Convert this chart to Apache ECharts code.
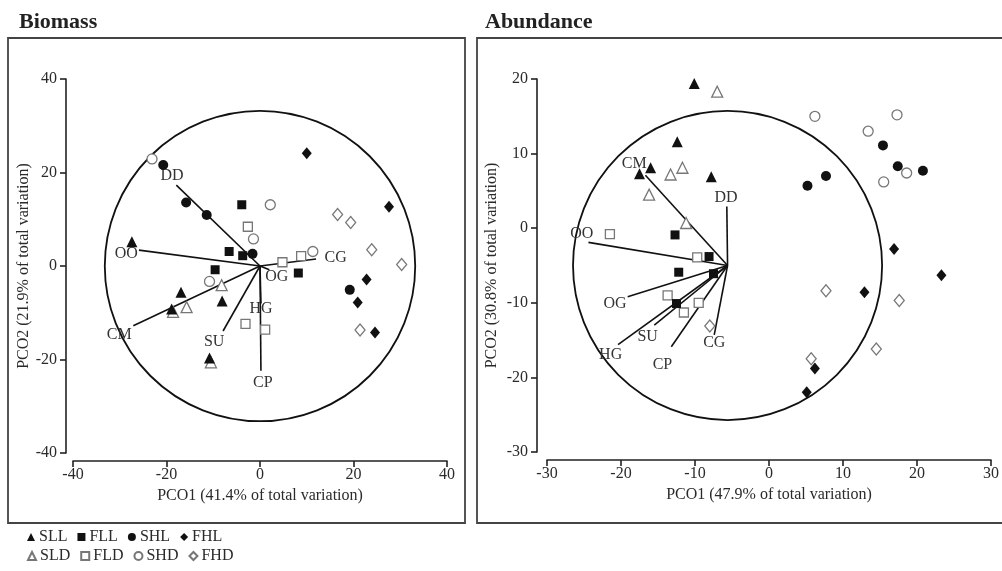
<!DOCTYPE html>
<html>
<head>
<meta charset="utf-8">
<title>PCO ordination – Biomass and Abundance</title>
<script src="https://cdn.jsdelivr.net/npm/echarts/dist/echarts.min.js"></script>
<style>
  html, body { margin: 0; padding: 0; background: #fff; }
  #chart { width: 1002px; height: 571px; }
</style>
</head>
<body>
<div id="chart"></div>
<script>
// ---------- Biomass panel: sample scores (PCO1, PCO2) ----------
const bioSLL = [[-27.4, 5.2], [-16.9, -5.6], [-18.9, -9.2], [-8.1, -7.5], [-10.8, -19.7]];
const bioSLD = [[-8.2, -4.1], [-15.7, -8.8], [-18.6, -9.8], [-10.5, -20.6]];
const bioFLL = [[-3.9, 13.1], [-6.6, 3.1], [-3.7, 2.2], [-9.6, -0.8], [8.2, -1.5]];
const bioFLD = [[-2.6, 8.4], [8.8, 2.1], [4.8, 0.8], [-3.1, -12.4], [1.1, -13.6]];
const bioSHL = [[-20.7, 21.6], [-15.8, 13.6], [-11.4, 10.9], [19.2, -5.1], [-1.6, 2.6]];
const bioSHD = [[-23.1, 22.9], [2.2, 13.1], [11.3, 3.1], [-10.8, -3.3], [-1.4, 5.8]];
const bioFHL = [[10.0, 24.1], [27.6, 12.7], [22.8, -2.9], [20.9, -7.8], [24.6, -14.2]];
const bioFHD = [[16.6, 11.0], [19.4, 9.3], [23.9, 3.5], [30.3, 0.3], [21.4, -13.7]];

// Biomass vector overlay: origin, variable names, vector tips and label anchors
const bioOrigin = [0, 0];
const bioCircleRadius = 33.2;
const bioVarNames = ['DD', 'OO', 'CM', 'SU', 'HG', 'CP', 'OG', 'CG'];
const bioVarTips = [[-17.9, 17.3], [-25.9, 3.4], [-27.1, -12.8], [-7.9, -13.9], [0.2, -8.0], [0.2, -22.4], [2.0, -0.8], [12.0, 1.5]];
const bioVarLabels = [[-18.8, 19.2], [-28.6, 2.6], [-30.1, -14.7], [-9.8, -16.2], [0.2, -9.2], [0.6, -25.0], [3.6, -2.4], [16.2, 1.7]];

// ---------- Abundance panel: sample scores (PCO1, PCO2) ----------
const abuSLL = [[-10.1, 19.4], [-12.4, 11.6], [-16.0, 8.1], [-17.5, 7.3], [-7.8, 6.9]];
const abuSLD = [[-7.0, 18.3], [-13.3, 7.2], [-11.7, 8.1], [-16.2, 4.5], [-11.2, 0.7]];
const abuFLL = [[-12.7, -0.9], [-8.1, -3.8], [-12.2, -5.9], [-7.5, -6.1], [-12.5, -10.1]];
const abuFLD = [[-21.5, -0.8], [-9.7, -3.9], [-13.7, -9.0], [-11.5, -11.3], [-9.5, -10.0]];
const abuSHL = [[15.4, 11.1], [17.4, 8.3], [20.8, 7.7], [7.7, 7.0], [5.2, 5.7]];
const abuSHD = [[6.2, 15.0], [17.3, 15.2], [13.4, 13.0], [18.6, 7.4], [15.5, 6.2]];
const abuFHL = [[16.9, -2.8], [23.3, -6.3], [12.9, -8.6], [6.2, -18.8], [5.1, -22.0]];
const abuFHD = [[7.7, -8.4], [17.6, -9.7], [14.5, -16.2], [5.7, -17.5], [-8.0, -13.1]];

// Abundance vector overlay
const abuOrigin = [-5.6, -5.0];
const abuCircleRadius = 20.8;
const abuVarNames = ['CM', 'DD', 'OO', 'OG', 'SU', 'HG', 'CP', 'CG'];
const abuVarTips = [[-16.7, 7.1], [-5.7, 2.9], [-24.4, -1.9], [-19.1, -9.2], [-15.5, -13.0], [-20.4, -15.6], [-13.2, -15.9], [-7.4, -14.3]];
const abuVarLabels = [[-18.2, 8.6], [-5.8, 4.1], [-25.3, -0.8], [-20.8, -10.1], [-16.4, -14.6], [-21.4, -17.0], [-14.4, -18.3], [-7.4, -15.3]];

// Axis ranges and titles
const bioXTicks = { min: -40, max: 40, interval: 20 };
const bioYTicks = { min: -40, max: 40, interval: 20 };
const abuXTicks = { min: -30, max: 30, interval: 10 };
const abuYTicks = { min: -30, max: 20, interval: 10 };
const bioXName = 'PCO1 (41.4% of total variation)';
const bioYName = 'PCO2 (21.9% of total variation)';
const abuXName = 'PCO1 (47.9% of total variation)';
const abuYName = 'PCO2 (30.8% of total variation)';

// Group names, in legend order
const filledGroups = ['SLL', 'FLL', 'SHL', 'FHL'];
const hollowGroups = ['SLD', 'FLD', 'SHD', 'FHD'];

// ---------- styling ----------
const SERIF = '"Liberation Serif", "Times New Roman", serif';
const INK = '#111';
const TEXT = '#2a2a2a';
const HOLLOW = '#777';

const symbolOf = { S_L: 'triangle', F_L: 'rect', S_H: 'circle', F_H: 'diamond' };
function groupSymbol(g) { return symbolOf[g[0] + '_' + g[1]]; }
function groupSize(g) {
  const s = groupSymbol(g);
  if (s === 'triangle') return 11;
  if (s === 'rect') return 9;
  if (s === 'circle') return 10;
  return [10, 12];
}

function axis(kind, grid, ticks, name, offset, nameGap) {
  return {
    type: 'value', gridIndex: grid,
    min: ticks.min, max: ticks.max, interval: ticks.interval,
    offset: offset,
    name: name, nameLocation: 'middle', nameGap: nameGap,
    nameTextStyle: { fontFamily: SERIF, fontSize: 16, color: TEXT },
    axisLine: { show: true, onZero: false, lineStyle: { color: '#222', width: 1.6 } },
    axisTick: { show: true, inside: false, length: 6, lineStyle: { color: '#222', width: 1.6 } },
    axisLabel: { fontFamily: SERIF, fontSize: 16, color: TEXT, margin: kind === 'x' ? 6 : 9 },
    splitLine: { show: false }
  };
}

function scatter(name, data, grid, filled) {
  return {
    type: 'scatter', name: name, data: data,
    xAxisIndex: grid, yAxisIndex: grid,
    symbol: groupSymbol(name), symbolSize: groupSize(name),
    itemStyle: filled
      ? { color: INK, opacity: 1 }
      : { color: '#fff', borderColor: HOLLOW, borderWidth: 1.3, opacity: 1 },
    emphasis: { disabled: true },
    z: filled ? 5 : 4,
    animation: false
  };
}

function circleSeries(grid, center, radius) {
  return {
    type: 'custom', xAxisIndex: grid, yAxisIndex: grid,
    data: [[center[0], center[1], radius]],
    clip: false, silent: true, z: 2, animation: false,
    renderItem: function (params, api) {
      const c = api.coord([api.value(0), api.value(1)]);
      const s = api.size([api.value(2), api.value(2)]);
      return {
        type: 'circle',
        shape: { cx: c[0], cy: c[1], r: (s[0] + s[1]) / 2 },
        style: { fill: 'none', stroke: INK, lineWidth: 1.8 }
      };
    }
  };
}

function vectorSeries(grid, origin, names, tips, labels) {
  return {
    type: 'custom', xAxisIndex: grid, yAxisIndex: grid,
    data: tips.map(function (t, i) { return [t[0], t[1], labels[i][0], labels[i][1]]; }),
    clip: false, silent: true, z: 3, animation: false,
    renderItem: function (params, api) {
      const o = api.coord(origin);
      const e = api.coord([api.value(0), api.value(1)]);
      const l = api.coord([api.value(2), api.value(3)]);
      return {
        type: 'group',
        children: [
          { type: 'line', shape: { x1: o[0], y1: o[1], x2: e[0], y2: e[1] },
            style: { stroke: INK, lineWidth: 1.6 } },
          { type: 'text', x: l[0], y: l[1],
            style: { text: names[params.dataIndex], font: '16px ' + SERIF, fill: '#333',
                     align: 'center', verticalAlign: 'middle' } }
        ]
      };
    }
  };
}

const bioSets = { SLL: bioSLL, SLD: bioSLD, FLL: bioFLL, FLD: bioFLD, SHL: bioSHL, SHD: bioSHD, FHL: bioFHL, FHD: bioFHD };
const abuSets = { SLL: abuSLL, SLD: abuSLD, FLL: abuFLL, FLD: abuFLD, SHL: abuSHL, SHD: abuSHD, FHL: abuFHL, FHD: abuFHD };

const series = [
  circleSeries(0, bioOrigin, bioCircleRadius),
  vectorSeries(0, bioOrigin, bioVarNames, bioVarTips, bioVarLabels),
  circleSeries(1, abuOrigin, abuCircleRadius),
  vectorSeries(1, abuOrigin, abuVarNames, abuVarTips, abuVarLabels)
];
// open symbols first so the solid ones sit on top
hollowGroups.forEach(function (g) {
  series.push(scatter(g, bioSets[g], 0, false));
  series.push(scatter(g, abuSets[g], 1, false));
});
filledGroups.forEach(function (g) {
  series.push(scatter(g, bioSets[g], 0, true));
  series.push(scatter(g, abuSets[g], 1, true));
});

function legendRow(names, top) {
  return {
    left: 22, top: top, orient: 'horizontal',
    data: names.map(function (n) { return { name: n }; }),
    itemWidth: 8, itemHeight: 8, itemGap: 10,
    selectedMode: false,
    textStyle: { fontFamily: SERIF, fontSize: 16, color: TEXT, padding: [0, 0, 0, -1] }
  };
}

const option = {
  backgroundColor: '#fff',
  animation: false,
  title: [
    { text: 'Biomass', left: 14, top: 6,
      textStyle: { fontFamily: SERIF, fontSize: 22, fontWeight: 'bold', color: '#222' } },
    { text: 'Abundance', left: 480, top: 6,
      textStyle: { fontFamily: SERIF, fontSize: 22, fontWeight: 'bold', color: '#222' } }
  ],
  graphic: [
    { type: 'rect', shape: { x: 8, y: 38, width: 457, height: 485 },
      style: { fill: 'none', stroke: '#444', lineWidth: 1.8 }, silent: true, z: 0 },
    { type: 'rect', shape: { x: 477, y: 38, width: 540, height: 485 },
      style: { fill: 'none', stroke: '#444', lineWidth: 1.8 }, silent: true, z: 0 }
  ],
  grid: [
    { left: 73, top: 79, width: 374, height: 374 },
    { left: 547, top: 79, width: 447, height: 373 }
  ],
  xAxis: [
    axis('x', 0, bioXTicks, bioXName, 8, 26),
    axis('x', 1, abuXTicks, abuXName, 8, 26)
  ],
  yAxis: [
    axis('y', 0, bioYTicks, bioYName, 7, 32),
    axis('y', 1, abuYTicks, abuYName, 10, 37)
  ],
  legend: [legendRow(filledGroups, 524), legendRow(hollowGroups, 543)],
  series: series
};

const chart = echarts.init(document.getElementById('chart'), null, { renderer: 'canvas' });
chart.setOption(option);
</script>
</body>
</html>
